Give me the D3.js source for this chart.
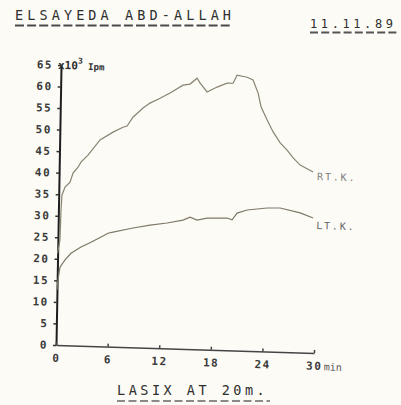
<!DOCTYPE html>
<html>
<head>
<meta charset="utf-8">
<script src="https://cdn.jsdelivr.net/npm/d3@7"></script>
<style>
  body { margin: 0; background: #fcfbf6; }
  svg { display: block; }
  text { font-family: "DejaVu Sans Mono", monospace; }
</style>
</head>
<body>
<div id="root"></div>
<script>
const width = 401;
const height = 405;

// Header / footer strings
const patientName = "ELSAYEDA ABD-ALLAH";
const studyDate = "11.11.89";
const footNote = "LASIX AT 20m.";

// Axis ticks
const yTicks = [0, 5, 10, 15, 20, 25, 30, 35, 40, 45, 50, 55, 60, 65];
const xTicks = [0, 6, 12, 18, 24, 30];
const xTickLabels = ["0", "6", "12", "18", "24", "30"];

// Right kidney (x10^3 counts, minutes)
const rtTime = [0, 0.24, 0.30, 0.38, 0.72, 1.29, 1.62, 2.19, 2.52, 3.32, 4.69, 6.18, 7.33, 7.8,
  8.47, 9.62, 10.42, 11.58, 12.73, 14.22, 15.03, 15.84, 16.2, 17.03, 18.18, 19.34, 20.03,
  20.48, 21.65, 22.35, 22.96, 23.34, 24.07, 24.79, 25.63, 26.45, 27.17, 28.0, 28.7, 29.52];
const rtCounts = [21.3, 24.4, 31.3, 34.8, 36.7, 37.9, 40.0, 41.4, 42.6, 44.3, 47.9, 49.8, 51.0, 51.3,
  53.4, 55.6, 56.8, 58.0, 59.3, 61.2, 61.5, 62.9, 61.8, 59.8, 61.0, 62.0, 62.0,
  63.9, 63.5, 62.9, 59.9, 56.7, 53.7, 51.0, 48.5, 46.9, 45.1, 43.5, 42.8, 42.0];

// Left kidney
const ltTime = [0, 0.05, 0.3, 0.87, 1.55, 2.7, 3.85, 5.01, 5.81, 6.39, 8.71, 10.68, 12.65, 14.5,
  15.31, 16.13, 17.29, 19.62, 20.2, 20.77, 21.93, 24.25, 25.76, 28.1, 29.62];
const ltCounts = [12.8, 14.4, 18.1, 19.8, 21.4, 22.9, 24.1, 25.4, 26.3, 26.6, 27.7, 28.5, 29.1, 29.9,
  30.6, 30.0, 30.5, 30.7, 30.3, 31.9, 32.7, 33.3, 33.4, 32.4, 31.3];

const svg = d3.select("#root")
  .append("svg")
  .attr("width", width)
  .attr("height", height);

svg.append("rect")
  .attr("width", width)
  .attr("height", height)
  .attr("fill", "#fcfbf6");

// Header
svg.append("text")
  .attr("x", 15).attr("y", 20)
  .attr("font-size", 13.5)
  .attr("letter-spacing", 4.1)
  .attr("fill", "#2e2e2e")
  .text(patientName);
svg.append("line")
  .attr("x1", 15).attr("x2", 232)
  .attr("y1", 25.5).attr("y2", 25.5)
  .attr("stroke", "#4a4a4a").attr("stroke-width", 2)
  .attr("stroke-dasharray", "9,3.1");

svg.append("text")
  .attr("x", 310).attr("y", 28)
  .attr("font-size", 12)
  .attr("letter-spacing", 3.6)
  .attr("fill", "#2e2e2e")
  .text(studyDate);
svg.append("line")
  .attr("x1", 310).attr("x2", 398)
  .attr("y1", 32.5).attr("y2", 32.5)
  .attr("stroke", "#555").attr("stroke-width", 2)
  .attr("stroke-dasharray", "8,3.2");

// Footer
svg.append("text")
  .attr("x", 117).attr("y", 395)
  .attr("font-size", 13.5)
  .attr("letter-spacing", 3.5)
  .attr("fill", "#2e2e2e")
  .text(footNote);
svg.append("line")
  .attr("x1", 117).attr("x2", 270)
  .attr("y1", 401).attr("y2", 401)
  .attr("stroke", "#8a8a8a").attr("stroke-width", 2)
  .attr("stroke-dasharray", "8,3.5");

// Plot area (the paper is slightly skewed on the scan)
const plot = svg.append("g")
  .attr("transform", "matrix(1,0.031,-0.018,1,56,345)");

const x = d3.scaleLinear().domain([0, 30]).range([0, 258]);
const y = d3.scaleLinear().domain([0, 65]).range([0, -280]);

const yAxis = plot.append("g")
  .call(d3.axisLeft(y)
    .tickValues(yTicks)
    .tickSizeInner(3)
    .tickSizeOuter(0)
    .tickPadding(5));
yAxis.select(".domain").attr("stroke", "#1e1e1e").attr("stroke-width", 2);
yAxis.selectAll(".tick line").attr("stroke", "#333").attr("stroke-width", 1.5);
yAxis.selectAll(".tick text")
  .attr("font-family", "DejaVu Sans Mono")
  .attr("font-size", 11)
  .attr("font-weight", "bold")
  .attr("letter-spacing", 1.5)
  .attr("fill", "#3a3a3a");

const xAxis = plot.append("g")
  .call(d3.axisBottom(x)
    .tickValues(xTicks)
    .tickFormat((d, i) => xTickLabels[i])
    .tickSizeInner(-3)
    .tickSizeOuter(0)
    .tickPadding(9));
xAxis.select(".domain").attr("stroke", "#444").attr("stroke-width", 1.5);
xAxis.selectAll(".tick line").attr("stroke", "#444").attr("stroke-width", 1.5);
xAxis.selectAll(".tick text")
  .attr("font-family", "DejaVu Sans Mono")
  .attr("font-size", 11)
  .attr("font-weight", "bold")
  .attr("letter-spacing", 1.5)
  .attr("fill", "#3a3a3a");

plot.append("text")
  .attr("x", x(30) + 10).attr("y", 17)
  .attr("font-size", 10)
  .attr("fill", "#555")
  .text("min");

// Unit label
const unit = plot.append("text")
  .attr("x", -3).attr("y", y(65) + 4)
  .attr("font-size", 11)
  .attr("font-weight", "bold")
  .attr("fill", "#2e2e2e");
unit.append("tspan").text("x10");
unit.append("tspan").attr("dy", -6).attr("font-size", 8).text("3");
unit.append("tspan").attr("dy", 6).attr("font-size", 9).text(" Ipm");

// Curves
const line = d3.line()
  .x(d => x(d[0]))
  .y(d => y(d[1]));

const rtData = rtTime.map((t, i) => [t, rtCounts[i]]);
const ltData = ltTime.map((t, i) => [t, ltCounts[i]]);

plot.append("path")
  .datum(rtData)
  .attr("d", line)
  .attr("fill", "none")
  .attr("stroke", "#8a8372")
  .attr("stroke-width", 1.2);

plot.append("path")
  .datum(ltData)
  .attr("d", line)
  .attr("fill", "none")
  .attr("stroke", "#7f7867")
  .attr("stroke-width", 1.2);

plot.append("text")
  .attr("x", 258).attr("y", -173)
  .attr("font-size", 10)
  .attr("letter-spacing", 1.8)
  .attr("fill", "#808080")
  .text("RT.K.");

plot.append("text")
  .attr("x", 258).attr("y", -124)
  .attr("font-size", 10)
  .attr("letter-spacing", 1.8)
  .attr("fill", "#666")
  .text("LT.K.");
</script>
</body>
</html>
